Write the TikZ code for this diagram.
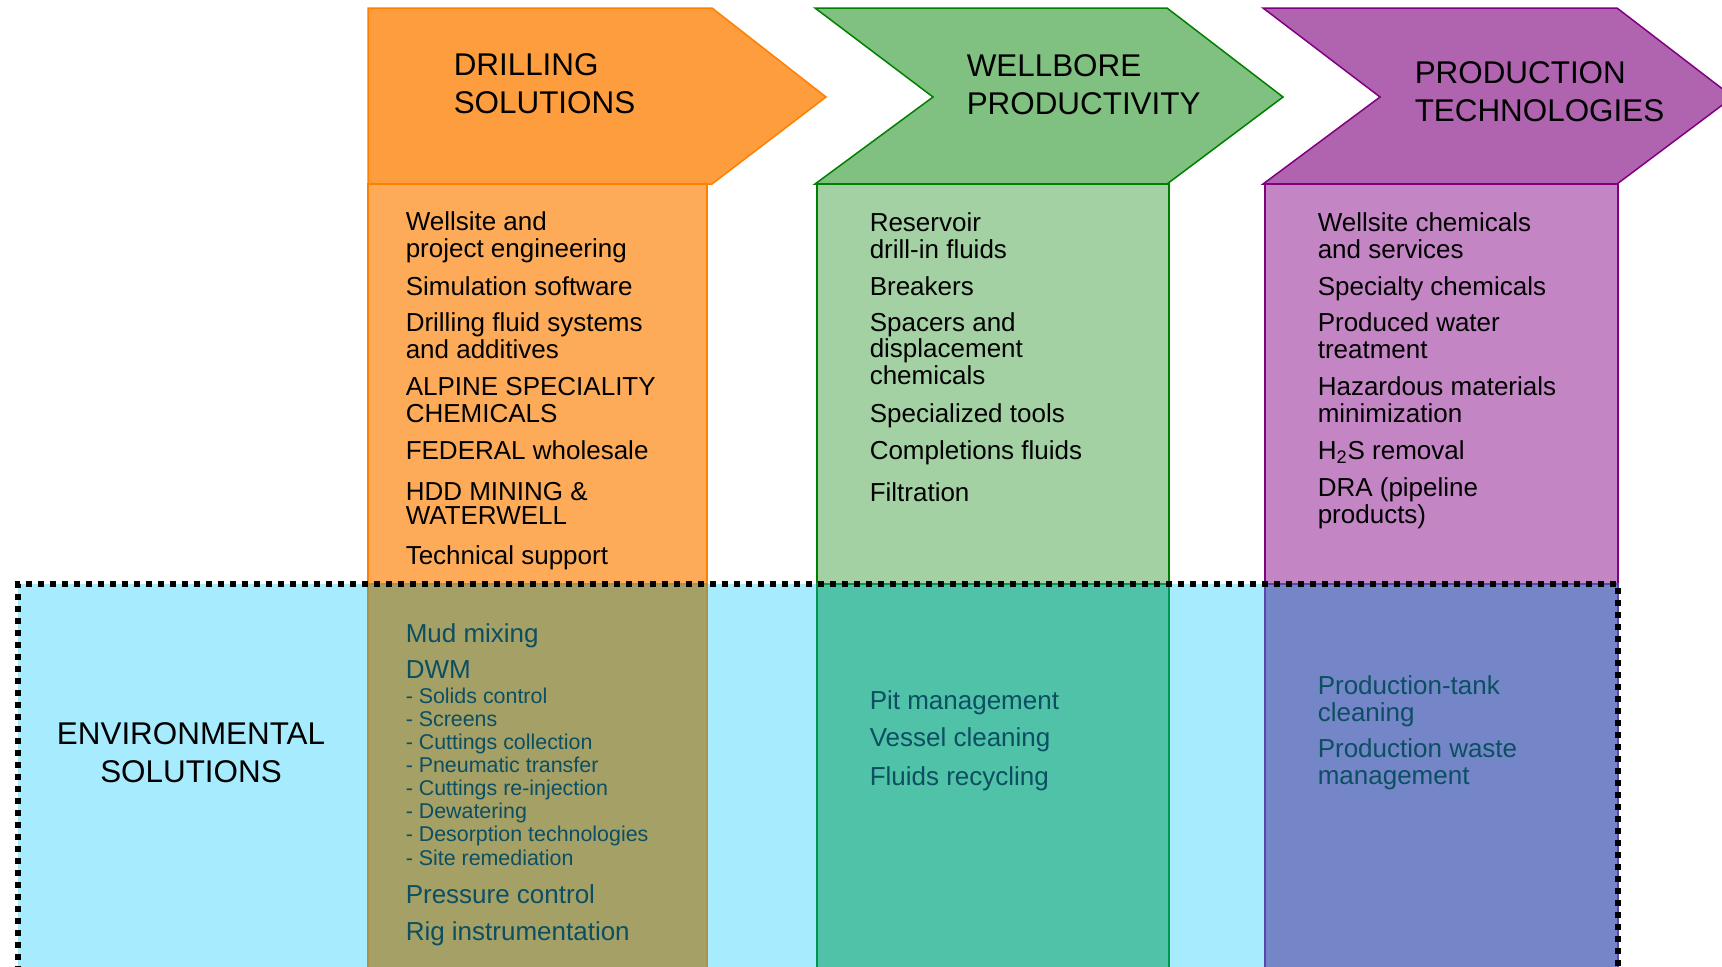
\documentclass[tikz,border=0pt]{standalone}
\usepackage{fontspec}
\setmainfont{Liberation Sans}

\tikzset{every picture/.style={line width=0.75pt}}
\tikzset{
  hdrtext/.style={anchor=base west, inner sep=0pt, align=left, font=\fontsize{15.7}{18.75}\selectfont},
  itemtext/.style={anchor=base west, inner sep=0pt, align=left, font=\fontsize{13}{13.25}\selectfont},
  envtext/.style={anchor=base west, inner sep=0pt, align=left, text={rgb, 255:red, 12; green, 78; blue, 98}, font=\fontsize{13}{13.25}\selectfont},
  subtext/.style={envtext, font=\fontsize{10.7}{11.57}\selectfont},
  dotline/.style={line width=3pt, dash pattern=on 3pt off 3pt},
}

\begin{document}
\begin{tikzpicture}[x=0.5pt,y=0.5pt,yscale=-1,xscale=1]
	%set diagram left start at 0, and has height of 966
	\useasboundingbox (0,0) rectangle (1722,966);

	%Shape: Rectangle (environmental band)
	\path [fill={rgb, 255:red, 166; green, 236; blue, 254 }] (18,584) rectangle (1618,980) ;

	%Shape: Polygon (drilling arrow)
	\draw [color={rgb, 255:red, 255; green, 128; blue, 0 }, fill={rgb, 255:red, 253; green, 157; blue, 62 }] (368,8) -- (712,8) -- (826,97) -- (712,184) -- (368,184) -- cycle ;
	%Shape: Rectangle
	\draw [color={rgb, 255:red, 255; green, 128; blue, 0 }, fill={rgb, 255:red, 253; green, 171; blue, 88 }] (368,184) rectangle (707,584) ;
	%Shape: Rectangle
	\draw [color={rgb, 255:red, 172; green, 146; blue, 70 }, fill={rgb, 255:red, 165; green, 160; blue, 101 }] (368,584) rectangle (707,980) ;

	%Shape: Polygon (wellbore arrow)
	\draw [color={rgb, 255:red, 0; green, 128; blue, 0 }, fill={rgb, 255:red, 128; green, 192; blue, 128 }] (815,8) -- (1167,8) -- (1283,97) -- (1167,184) -- (815,184) -- (933,97) -- cycle ;
	%Shape: Rectangle
	\draw [color={rgb, 255:red, 0; green, 128; blue, 0 }, fill={rgb, 255:red, 163; green, 209; blue, 163 }] (817,184) rectangle (1169,584) ;
	%Shape: Rectangle
	\draw [color={rgb, 255:red, 0; green, 150; blue, 80 }, fill={rgb, 255:red, 80; green, 194; blue, 168 }] (817,584) rectangle (1169,980) ;

	%Shape: Polygon (production arrow)
	\draw [color={rgb, 255:red, 128; green, 0; blue, 128 }, fill={rgb, 255:red, 176; green, 100; blue, 176 }] (1263,8) -- (1617,8) -- (1733,97) -- (1617,184) -- (1263,184) -- (1380,97) -- cycle ;
	%Shape: Rectangle
	\draw [color={rgb, 255:red, 128; green, 0; blue, 128 }, fill={rgb, 255:red, 195; green, 133; blue, 195 }] (1265,184) rectangle (1618,584) ;
	%Shape: Rectangle
	\draw [color={rgb, 255:red, 90; green, 70; blue, 175 }, fill={rgb, 255:red, 116; green, 134; blue, 200 }] (1265,584) rectangle (1618,980) ;

	%Shape: Rectangle (dotted frame)
	\draw [dotline] (1618,990) -- (1618,584) -- (18,584) -- (18,990) ;

	% Text Node
	\node [hdrtext] (drillhdr) at (453,113) {DRILLING\\SOLUTIONS};
	% Text Node
	\node [hdrtext] (wellhdr) at (966,114) {WELLBORE\\PRODUCTIVITY};
	% Text Node
	\node [hdrtext] (prodhdr) at (1414,121) {PRODUCTION\\TECHNOLOGIES};
	% Text Node
	\node [hdrtext, align=center, anchor=base] (envhdr) at (191,782) {ENVIRONMENTAL\\SOLUTIONS};

	% Text Node
	\node [itemtext] (drill1) at (405,257) {Wellsite and\\project engineering};
	\node [itemtext] (drill2) at (405,295) {Simulation software};
	\node [itemtext] (drill3) at (405,358) {Drilling fluid systems\\and additives};
	\node [itemtext] (drill4) at (405,422) {ALPINE SPECIALITY\\CHEMICALS};
	\node [itemtext] (drill5) at (405,459) {FEDERAL wholesale};
	\node [itemtext, font=\fontsize{13}{12}\selectfont] (drill6) at (405,524) {HDD MINING \&\\WATERWELL};
	\node [itemtext] (drill7) at (405,564) {Technical support};

	% Text Node
	\node [itemtext] (well1) at (869,258) {Reservoir\\drill-in fluids};
	\node [itemtext] (well2) at (869,295) {Breakers};
	\node [itemtext] (well3) at (869,384) {Spacers and\\displacement\\chemicals};
	\node [itemtext] (well4) at (869,422) {Specialized tools};
	\node [itemtext] (well5) at (869,459) {Completions fluids};
	\node [itemtext] (well6) at (869,501) {Filtration};

	% Text Node
	\node [itemtext] (prod1) at (1317,258) {Wellsite chemicals\\and services};
	\node [itemtext] (prod2) at (1317,295) {Specialty chemicals};
	\node [itemtext] (prod3) at (1317,358) {Produced water\\treatment};
	\node [itemtext] (prod4) at (1317,422) {Hazardous materials\\minimization};
	\node [itemtext] (prod5) at (1317,459) {H\textsubscript{2}S removal};
	\node [itemtext, font=\fontsize{13}{11.75}\selectfont] (prod6) at (1317,523) {DRA (pipeline\\products)};

	% Text Node
	\node [envtext] (env1) at (405,642) {Mud mixing};
	\node [envtext] (env2) at (405,678) {DWM};
	\node [subtext] (env3) at (405,865) {- Solids control\\- Screens\\- Cuttings collection\\- Pneumatic transfer\\- Cuttings re-injection\\- Dewatering\\- Desorption technologies\\- Site remediation};
	\node [envtext] (env4) at (405,903) {Pressure control};
	\node [envtext] (env5) at (405,940) {Rig instrumentation};

	% Text Node
	\node [envtext] (env6) at (869,709) {Pit management};
	\node [envtext] (env7) at (869,746) {Vessel cleaning};
	\node [envtext] (env8) at (869,785) {Fluids recycling};

	% Text Node
	\node [envtext] (env9) at (1317,721) {Production-tank\\cleaning};
	\node [envtext] (env10) at (1317,784) {Production waste\\management};

\end{tikzpicture}
\end{document}
